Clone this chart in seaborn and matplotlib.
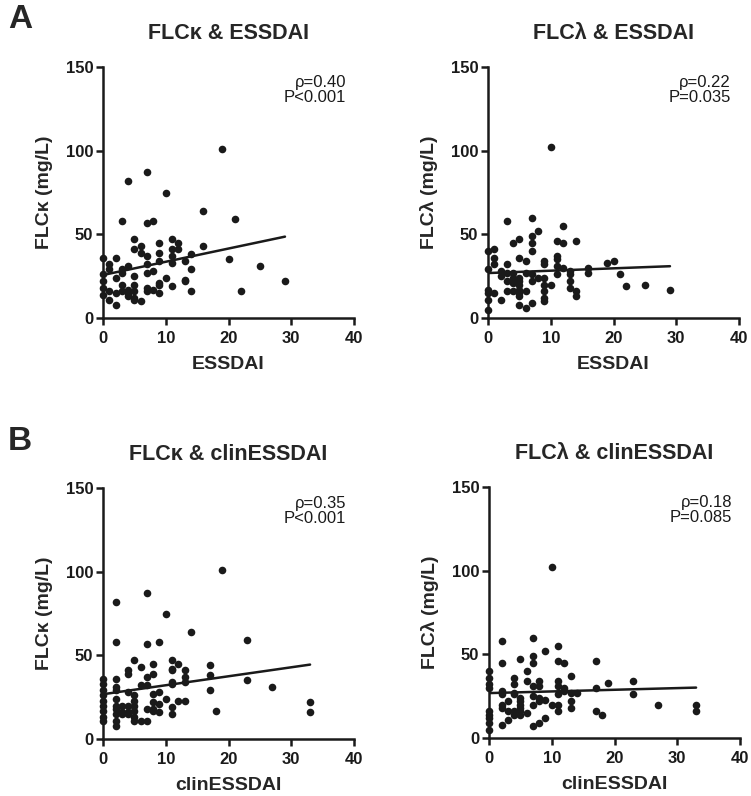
import numpy as np
import pandas as pd
import matplotlib
matplotlib.use('Agg')
import matplotlib.pyplot as plt
import seaborn as sns

sns.set_style('ticks')
plt.rcParams['font.family'] = ['Liberation Sans', 'DejaVu Sans']

# FLC kappa vs ESSDAI
ka_essdai = [19, 7, 4, 10, 16, 21, 3, 7, 8, 11, 12, 11, 12, 5, 6, 5, 9, 16, 0, 2, 6, 7, 9, 9,
             11, 11, 14, 13, 20, 25, 1, 1, 4, 3, 3, 7, 7, 8, 14, 0, 0, 0, 0, 2, 10, 13, 13,
             5, 5, 5, 5, 5, 3, 3, 4, 4, 4, 1, 1, 2, 2, 6, 7, 7, 8, 9, 9, 9, 11, 14, 22, 29]
ka_flc = [101, 87, 82, 75, 64, 59, 58, 57, 58, 47, 45, 41, 41, 47, 43, 41, 45, 43, 36, 36, 39, 37, 39, 34,
          37, 33, 38, 34, 35, 31, 32, 29, 31, 29, 27, 32, 27, 28, 29, 26, 22, 18, 14, 24, 24, 23, 22,
          25, 20, 16, 12, 11, 20, 16, 17, 15, 13, 16, 11, 15, 8, 10, 18, 16, 17, 21, 20, 15, 19, 16, 16, 22]

# FLC lambda vs ESSDAI
la_essdai = [10, 3, 7, 12, 8, 7, 7, 7, 5, 4, 11, 12, 14, 0, 1, 1, 1, 5, 6, 11, 11, 11, 9, 9, 3,
             19, 20, 0, 16, 16, 12, 13, 13, 13, 13, 2, 2, 3, 3, 3, 4, 4, 4, 4, 5, 5, 5, 5, 5, 5, 5,
             6, 6, 7, 7, 7, 8, 9, 9, 9, 9, 9, 10, 11, 14, 14, 21, 22, 25, 29, 0, 0, 0, 0, 1, 2, 6]
la_flc = [102, 58, 60, 55, 52, 49, 45, 40, 47, 45, 46, 45, 46, 40, 41, 36, 32, 36, 34, 37, 35, 31, 34, 32, 32,
          33, 34, 29, 30, 27, 30, 28, 26, 22, 18, 28, 25, 27, 22, 16, 27, 24, 21, 16, 24, 22, 20, 17, 15, 13, 8,
          27, 16, 26, 22, 9, 24, 24, 20, 16, 12, 10, 20, 26, 16, 13, 26, 19, 20, 17, 17, 15, 11, 5, 15, 11, 6]

# FLC kappa vs clinESSDAI
kb_clin = [19, 7, 2, 10, 14, 2, 7, 9, 23, 5, 6, 4, 4, 8, 8, 11, 12, 11, 11, 13, 13, 13, 17, 17,
           0, 0, 0, 0, 0, 0, 0, 0, 0, 2, 2, 2, 2, 2, 2, 2, 2, 2, 7, 6, 7, 11, 11, 23, 27, 4,
           5, 5, 5, 5, 5, 5, 3, 3, 3, 4, 4, 4, 6, 7, 8, 8, 8, 9, 9, 9, 7, 8, 10, 11, 11, 12, 13, 17, 18, 33, 33]
kb_flc = [101, 87, 82, 75, 64, 58, 57, 58, 59, 47, 43, 41, 39, 45, 39, 47, 45, 42, 41, 41, 37, 34, 44, 38,
          36, 33, 29, 26, 23, 20, 17, 13, 11, 36, 31, 29, 24, 20, 18, 15, 11, 8, 37, 32, 32, 34, 33, 35, 31, 28,
          26, 23, 20, 17, 13, 11, 20, 16, 15, 20, 16, 15, 11, 11, 27, 22, 17, 28, 21, 16, 18, 18, 24, 19, 15, 23, 23, 29, 17, 22, 16]

# FLC lambda vs clinESSDAI
lb_clin = [10, 2, 7, 11, 9, 7, 7, 5, 2, 11, 12, 17, 6, 0, 0, 0, 0, 4, 4, 13, 6, 7, 8, 8, 11, 11,
           19, 23, 17, 12, 12, 2, 2, 4, 4, 5, 5, 5, 5, 5, 5, 3, 2, 2, 3, 4, 4, 7, 7, 8, 8, 9, 10, 11,
           11, 13, 14, 13, 13, 11, 6, 23, 27, 33, 33, 17, 18, 0, 0, 0, 0, 0, 2, 3, 7, 8, 9]
lb_flc = [102, 58, 60, 55, 52, 49, 45, 47, 45, 46, 45, 46, 40, 40, 36, 32, 30, 36, 32, 37, 34, 31, 34, 31, 34, 31,
          33, 34, 30, 30, 28, 28, 26, 27, 26, 24, 22, 20, 18, 16, 14, 22, 20, 18, 16, 16, 14, 25, 20, 24, 22, 23, 20, 20,
          26, 27, 27, 22, 18, 16, 15, 26, 20, 20, 16, 16, 14, 16, 14, 12, 9, 5, 8, 11, 7, 9, 12]

panels = [
    (ka_essdai, ka_flc, 'FLC\u03ba & ESSDAI', 'ESSDAI', 'FLC\u03ba (mg/L)', '\u03c1=0.40\nP<0.001'),
    (la_essdai, la_flc, 'FLC\u03bb & ESSDAI', 'ESSDAI', 'FLC\u03bb (mg/L)', '\u03c1=0.22\nP=0.035'),
    (kb_clin, kb_flc, 'FLC\u03ba & clinESSDAI', 'clinESSDAI', 'FLC\u03ba (mg/L)', '\u03c1=0.35\nP<0.001'),
    (lb_clin, lb_flc, 'FLC\u03bb & clinESSDAI', 'clinESSDAI', 'FLC\u03bb (mg/L)', '\u03c1=0.18\nP=0.085'),
]

W, H = 751, 796
fig = plt.figure(figsize=(W / 100, H / 100), dpi=100)
boxes = [(103, 67), (488, 67), (103, 488), (489, 487)]

for (xs, ys, title, xl, yl, note), (px, py) in zip(panels, boxes):
    ax = fig.add_axes([px / W, 1 - (py + 251) / H, 251 / W, 251 / H])
    df = pd.DataFrame({'x': xs, 'y': ys})
    sns.regplot(data=df, x='x', y='y', ax=ax, ci=None,
                scatter_kws=dict(s=30, color='#1a1a1a', linewidths=0, clip_on=False, alpha=1),
                line_kws=dict(color='#1a1a1a', lw=1.8))
    ax.set_xlim(0, 40)
    ax.set_ylim(0, 150)
    ax.set_xticks([0, 10, 20, 30, 40])
    ax.set_yticks([0, 50, 100, 150])
    sns.despine(ax=ax)
    for s in ['left', 'bottom']:
        ax.spines[s].set_linewidth(1.8)
        ax.spines[s].set_color('#1a1a1a')
    ax.tick_params(width=1.8, length=5, pad=2, labelsize=12, colors='#1a1a1a')
    ax.tick_params(axis='x', pad=4.5)
    for lab in ax.get_xticklabels() + ax.get_yticklabels():
        lab.set_fontweight('bold')
    ax.set_xlabel(xl, fontsize=14, fontweight='bold', labelpad=7)
    ax.set_ylabel(yl, fontsize=14, fontweight='bold', labelpad=9)
    ax.set_title(title, fontsize=15.5, fontweight='bold', pad=20)
    ax.text(0.968, 0.97, note, transform=ax.transAxes, ha='right', va='top', fontsize=12,
            color='#1a1a1a', linespacing=1.05)

fig.text(20 / W, 1 - 20 / H, 'A', fontsize=24, fontweight='bold', ha='center', va='center')
fig.text(20 / W, 1 - 441 / H, 'B', fontsize=24, fontweight='bold', ha='center', va='center')

fig.savefig('out.png', dpi=100, facecolor='white')
